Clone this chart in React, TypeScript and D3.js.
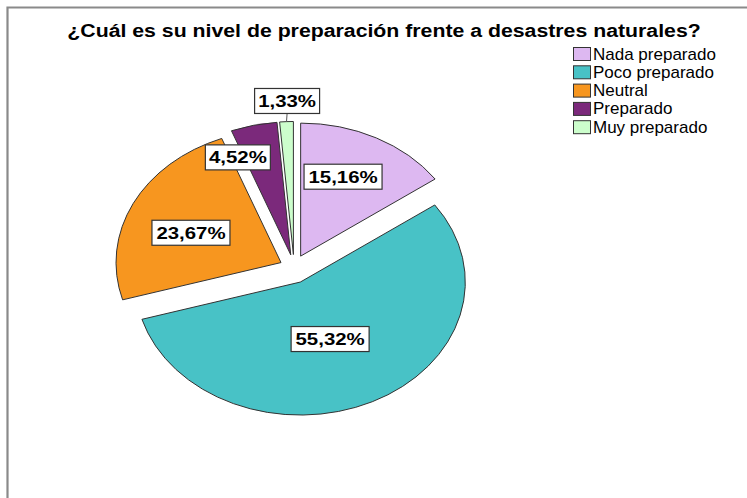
import * as d3 from 'd3';
import React from 'react';

// data
const categories = ['Nada preparado', 'Poco preparado', 'Neutral', 'Preparado', 'Muy preparado'];
const percents = [15.16, 55.32, 23.67, 4.52, 1.33];
const colors = ['#ddb8f1', '#48c2c6', '#f7961f', '#7b297b', '#ccfecc'];
const title = '¿Cuál es su nivel de preparación frente a desastres naturales?';

// label placement: fraction of radius along the slice angle, plus a small angle nudge (deg)
const labelFrac = [0.65, 0.465, 0.59, 0.8, 1.155];
const labelShift = [-4, 3, -4, -10.7, 0.5];

const W = 747;
const H = 498;
const cx = 294;
const cy = 269;
const rx = 165;
const ry = 133;
const explode = 14.5;

const fmt = (v: number) => v.toFixed(2).replace('.', ',') + '%';

const App = () => {
  const pie = d3.pie<number>().sort(null).value((d) => d).startAngle(0).endAngle(2 * Math.PI);
  const arcs = pie(percents);
  const arc = d3.arc<d3.PieArcDatum<number>>().innerRadius(0).outerRadius(ry);

  const slices = arcs.map((a, i) => {
    const mid = (a.startAngle + a.endAngle) / 2;
    const ox = cx + explode * Math.sin(mid);
    const oy = cy - explode * Math.cos(mid);
    const la = mid + (labelShift[i] * Math.PI) / 180;
    const lx = ox + labelFrac[i] * rx * Math.sin(la);
    const ly = oy - labelFrac[i] * ry * Math.cos(la);
    // point on the rim, used for leader lines
    const rimX = ox + rx * Math.sin(mid);
    const rimY = oy - ry * Math.cos(mid);
    return { a, i, mid, ox, oy, lx, ly, rimX, rimY };
  });

  return (
    <svg
      width={W}
      height={H}
      style={{ position: 'absolute', left: 0, top: 0, background: '#fff' }}
      fontFamily="'Liberation Sans', Arial, sans-serif"
    >
      {/* frame */}
      <path d={`M7.5,${H + 5} V7.5 H${W + 5}`} fill="none" stroke="#8a8a8a" strokeWidth={2.2} />

      <text
        transform="translate(384,37) scale(1.12,1)"
        textAnchor="middle"
        fontWeight="bold"
        fontSize={19}
      >
        {title}
      </text>

      {/* slices */}
      {slices.map((s) => (
        <path
          key={categories[s.i]}
          d={arc(s.a) || ''}
          transform={`translate(${s.ox},${s.oy}) scale(${rx / ry},1)`}
          fill={colors[s.i]}
          stroke="#333"
          strokeWidth={1}
          vectorEffect="non-scaling-stroke"
        />
      ))}

      {/* labels */}
      {slices.map((s) => {
        const txt = fmt(percents[s.i]);
        const bw = txt.length * 13;
        const bh = 25;
        const leader = labelFrac[s.i] > 1;
        return (
          <g key={'l' + s.i}>
            {leader && (
              <line x1={s.lx} y1={s.ly + bh / 2} x2={s.rimX} y2={s.rimY} stroke="#555" strokeWidth={1} />
            )}
            <rect
              x={s.lx - bw / 2}
              y={s.ly - bh / 2}
              width={bw}
              height={bh}
              fill="#fff"
              stroke="#333"
              strokeWidth={1.2}
            />
            <text
              transform={`translate(${s.lx},${s.ly + 6}) scale(1.2,1)`}
              textAnchor="middle"
              fontWeight="bold"
              fontSize={17}
            >
              {txt}
            </text>
          </g>
        );
      })}

      {/* legend */}
      <g transform="translate(573,47)">
        {categories.map((c, i) => (
          <g key={c} transform={`translate(0,${i * 18.3})`}>
            <rect x={0.5} y={0.5} width={17} height={13} fill={colors[i]} stroke="#333" strokeWidth={1} />
            <text x={20} y={12.5} fontSize={17}>
              {c}
            </text>
          </g>
        ))}
      </g>
    </svg>
  );
};

export default App;
